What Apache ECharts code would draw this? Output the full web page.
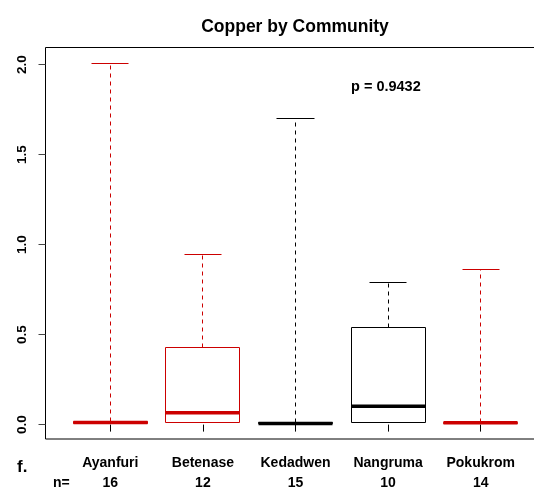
<!DOCTYPE html>
<html>
<head>
<meta charset="utf-8">
<script src="https://cdn.jsdelivr.net/npm/echarts@6/dist/echarts.min.js"></script>
<style>
html,body{margin:0;padding:0;background:#fff;}
#chart{width:534px;height:490px;}
</style>
</head>
<body>
<div id="chart"></div>
<script>
// ---- data ----
var categories = ['Ayanfuri', 'Betenase', 'Kedadwen', 'Nangruma', 'Pokukrom'];
var nCounts = [16, 12, 15, 10, 14];
var mins    = [0.005, 0.013, 0.005, 0.013, 0.006];
var q1s     = [0.005, 0.013, 0.005, 0.013, 0.006];
var medians = [0.011, 0.066, 0.006, 0.102, 0.010];
var q3s     = [0.018, 0.427, 0.010, 0.542, 0.014];
var maxs    = [2.006, 0.944, 1.703, 0.792, 0.863];
var yTicks  = [0, 0.5, 1.0, 1.5, 2.0];
var pValueText = 'p = 0.9432';
var titleText = 'Copper by Community';

// ---- styling ----
var RED = '#cc0000', BLACK = '#000000';
var boxColors = [RED, RED, BLACK, BLACK, RED];
var FONT = 'Liberation Sans';

var seriesData = categories.map(function (c, i) {
  return [i + 1, mins[i], q1s[i], medians[i], q3s[i], maxs[i], i];
});

function crisp(v) { return Math.round(v - 0.5) + 0.5; }

function renderItem(params, api) {
  var x = api.value(0);
  var mn = api.value(1), q1 = api.value(2), md = api.value(3), q3 = api.value(4), mx = api.value(5);
  var col = boxColors[api.value(6)];
  var halfBox = 0.4, halfCap = 0.2;
  var pL = api.coord([x - halfBox, q3]);
  var pR = api.coord([x + halfBox, q1]);
  var pc = api.coord([x, 0]);
  var cx = crisp(pc[0]);
  var xL = crisp(pL[0]), xR = crisp(pR[0]);
  var yQ3 = crisp(pL[1]), yQ1 = crisp(pR[1]);
  var yMd = api.coord([x, md])[1];
  var yMax = crisp(api.coord([x, mx])[1]);
  var yMin = crisp(api.coord([x, mn])[1]);
  var capL = crisp(api.coord([x - halfCap, mx])[0]);
  var capR = crisp(api.coord([x + halfCap, mx])[0]);
  var thin = {stroke: col, lineWidth: 1, fill: null};
  var dashed = {stroke: col, lineWidth: 1, lineDash: [4, 4], fill: null};
  var children = [
    {type: 'line', shape: {x1: cx, y1: yQ3, x2: cx, y2: yMax}, style: dashed},
    {type: 'line', shape: {x1: capL, y1: yMax, x2: capR, y2: yMax}, style: thin}
  ];
  if (yMin > yQ1) {
    children.push({type: 'line', shape: {x1: cx, y1: yQ1, x2: cx, y2: yMin}, style: dashed});
    children.push({type: 'line', shape: {x1: capL, y1: yMin, x2: capR, y2: yMin}, style: thin});
  }
  children.push({type: 'rect', shape: {x: xL, y: yQ3, width: xR - xL, height: yQ1 - yQ3}, style: thin});
  children.push({type: 'line', shape: {x1: xL, y1: yMd, x2: xR, y2: yMd}, style: {stroke: col, lineWidth: 3.5}});
  return {type: 'group', children: children};
}

var chart = echarts.init(document.getElementById('chart'), null, {renderer: 'canvas'});
chart.setOption({
  backgroundColor: '#ffffff',
  animation: false,
  title: {
    text: titleText,
    left: 290,
    top: 13,
    textAlign: 'center',
    textStyle: {fontFamily: FONT, fontWeight: 'bold', fontSize: 17.5, color: '#000'}
  },
  grid: {
    left: 45.5, top: 47.5, width: 500, height: 391.5,
    outerBoundsMode: 'none',
    containLabel: false,
    show: true, borderColor: '#000', borderWidth: 1, backgroundColor: 'transparent'
  },
  xAxis: {
    type: 'value',
    min: 0.3, max: 5.7,
    splitLine: {show: false},
    axisLine: {show: false},
    axisTick: {show: true, length: 7, customValues: categories.map(function (c, i) { return i + 1; }), lineStyle: {color: '#000'}},
    axisLabel: {
      customValues: categories.map(function (c, i) { return i + 1; }),
      margin: 14,
      formatter: function (v) {
        var i = Math.round(v) - 1;
        return categories[i] + '\n' + nCounts[i];
      },
      fontFamily: FONT, fontWeight: 'bold', fontSize: 14, lineHeight: 20, color: '#000'
    }
  },
  yAxis: {
    type: 'value',
    min: -0.08, max: 2.095,
    splitLine: {show: false},
    axisLine: {show: false},
    axisTick: {show: true, length: 7, customValues: yTicks, lineStyle: {color: '#444'}},
    axisLabel: {
      customValues: yTicks,
      rotate: 90,
      margin: 16,
      formatter: function (v) { return v.toFixed(1); },
      fontFamily: FONT, fontWeight: 'bold', fontSize: 13.5, color: '#000'
    }
  },
  graphic: [
    {type: 'text', left: 351, top: 79, style: {text: pValueText, font: 'bold 14.5px "Liberation Sans"', fill: '#000'}},
    {type: 'text', left: 17, top: 459, style: {text: 'f.', font: 'bold 17px "Liberation Sans"', fill: '#000'}},
    {type: 'text', left: 53, top: 476, style: {text: 'n=', font: 'bold 14px "Liberation Sans"', fill: '#000'}}
  ],
  series: [{
    type: 'custom',
    renderItem: renderItem,
    data: seriesData,
    encode: {x: 0, y: [1, 2, 3, 4, 5]},
    clip: false
  }]
});
</script>
</body>
</html>
